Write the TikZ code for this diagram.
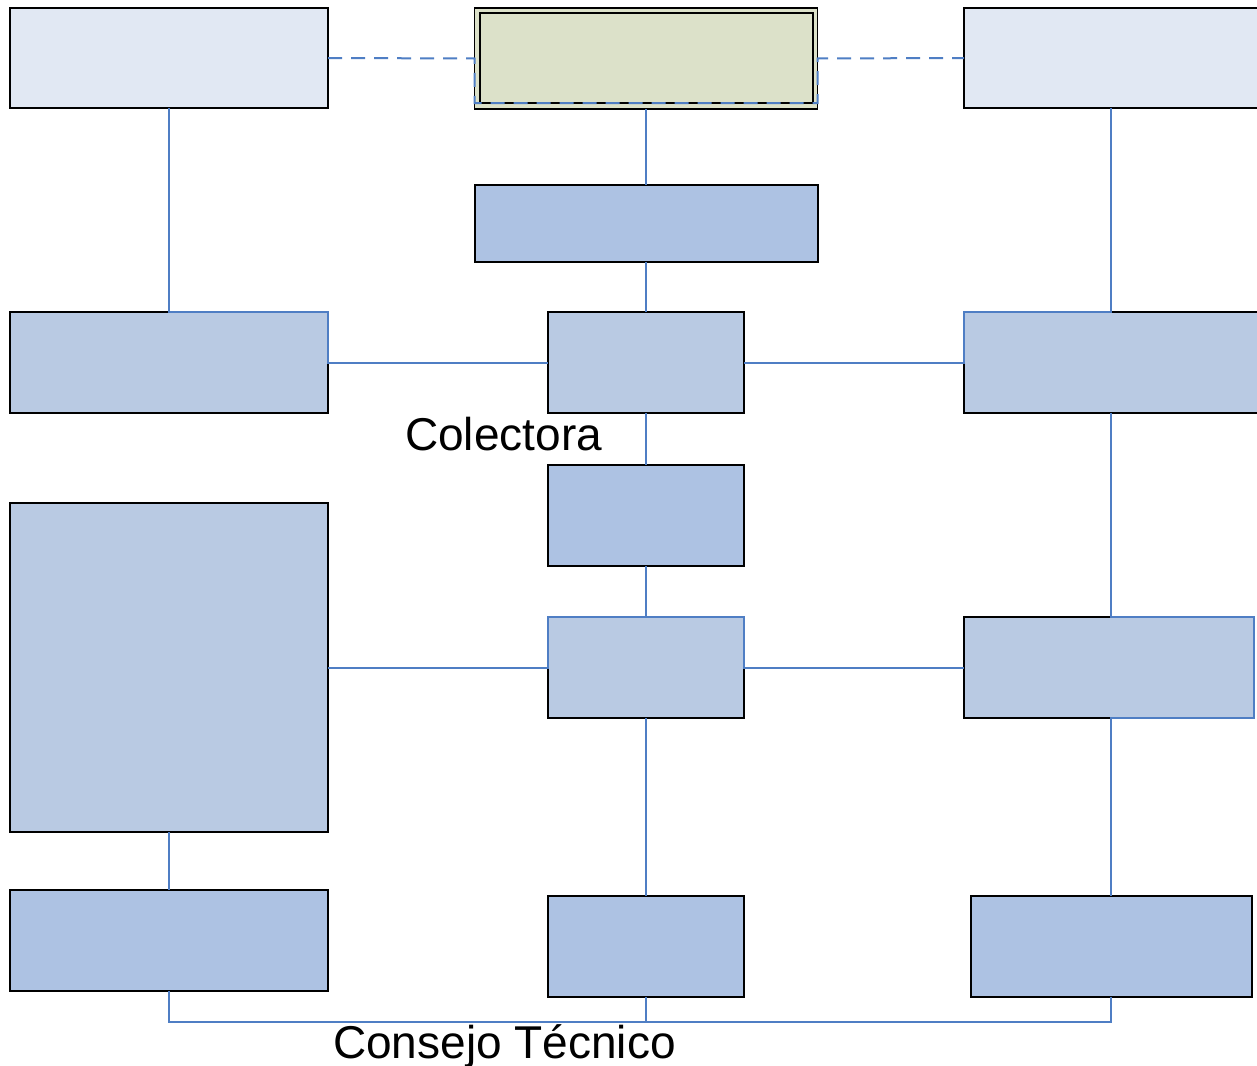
\documentclass[tikz,border=0pt]{standalone}
\usepackage{fontspec}
\setmainfont{Liberation Sans}
\definecolor{paleblue}{HTML}{E1E8F3}
\definecolor{midblue}{HTML}{B9CAE3}
\definecolor{deepblue}{HTML}{ADC2E3}
\definecolor{sage}{HTML}{DCE1C9}
\definecolor{linkblue}{HTML}{4F7EC4}
\tikzset{
  unitbox/.style={rectangle, draw=black, line width=2pt, inner sep=0pt,
    outer sep=0pt, minimum width=#1},
  link/.style={draw=linkblue, line width=2pt},
  dashlink/.style={draw=linkblue, line width=2pt, dash pattern=on 14pt off 9pt},
  label/.style={font=\fontsize{46}{55}\selectfont, inner sep=0pt}
}
\begin{document}
\begin{tikzpicture}[x=1pt,y=-1pt]
\clip (0,0) rectangle (1257,1065);
\fill[white] (0,0) rectangle (1257,1065);

% top row
\node[unitbox=318pt, minimum height=100pt, fill=paleblue] (tl) at (169,58) {};
\node[rectangle, draw=black, line width=1.2pt, fill=sage, inner sep=0pt, outer sep=0pt,
      minimum width=343pt, minimum height=101pt] (tc) at (646,58.5) {};
\node[unitbox=333pt, minimum height=90pt] (tcin) at (646,58) {};
\node[unitbox=300pt, minimum height=100pt, fill=paleblue] (tr) at (1114,58) {};

% second row
\node[unitbox=343pt, minimum height=77pt, fill=deepblue] (b2) at (646,223.5) {};

% third row
\node[unitbox=318pt, minimum height=101pt, fill=midblue] (l3) at (169,362.5) {};
\node[unitbox=196pt, minimum height=101pt, fill=midblue] (c3) at (646,362.5) {};
\node[unitbox=300pt, minimum height=101pt, fill=midblue] (r3) at (1114,362.5) {};

% fourth row
\node[unitbox=196pt, minimum height=101pt, fill=deepblue] (c4) at (646,515.5) {};

% fifth row
\node[unitbox=318pt, minimum height=329pt, fill=midblue] (l5) at (169,667.5) {};
\node[unitbox=196pt, minimum height=101pt, fill=midblue] (c5) at (646,667.5) {};
\node[unitbox=290pt, minimum height=101pt, fill=midblue] (r5) at (1109,667.5) {};

% bottom row
\node[unitbox=318pt, minimum height=101pt, fill=deepblue] (l6) at (169,940.5) {};
\node[unitbox=196pt, minimum height=101pt, fill=deepblue] (c6) at (646,946.5) {};
\node[unitbox=281pt, minimum height=101pt, fill=deepblue] (r6) at (1111.5,946.5) {};

% column and bus guides
\coordinate (colR) at (1111,0);
\coordinate (bus) at (0,1022);

% dashed advisory link across the top
\path[dashlink] (tl.east) -- (tc.west) |- ([yshift=6pt]tc.south) -| (tc.east) -- (tr.west);

% central spine
\path[link] (tc.south) -- (b2.north);
\path[link] (b2.south) -- (c3.north);
\path[link] (c3.south) -- (c4.north);
\path[link] (c4.south) -- (c5.north);
\path[link] (c5.south) -- (c6.north);

% third row links
\path[link] (tl.south) -- (l3.north) -| (l3.east) -- (c3.west);
\path[link] (tr.south -| colR) -- (r3.north -| colR) -| (r3.west) -- (c3.east);

% fifth row links
\path[link] (c5.north) -| (c5.west) -- (l5.east);
\path[link] (c5.north) -| (c5.east) -- (r5.west);
\path[link] (r3.south -| colR) -- (r5.north -| colR) -| (r5.east)
            |- (r5.south -| colR) -- (r6.north -| colR);
\path[link] (l5.south) -- (l6.north);

% bottom bus
\path[link] (l6.south) |- (bus -| colR) -- (r6.south -| colR);
\path[link] (c6.south) -- (c6.south |- bus);

% labels
\node[label, anchor=base west] (colectora) at (405,450) {Colectora};
\node[label, anchor=base west] (consejo) at (333,1058) {Consejo Técnico};
\end{tikzpicture}
\end{document}
